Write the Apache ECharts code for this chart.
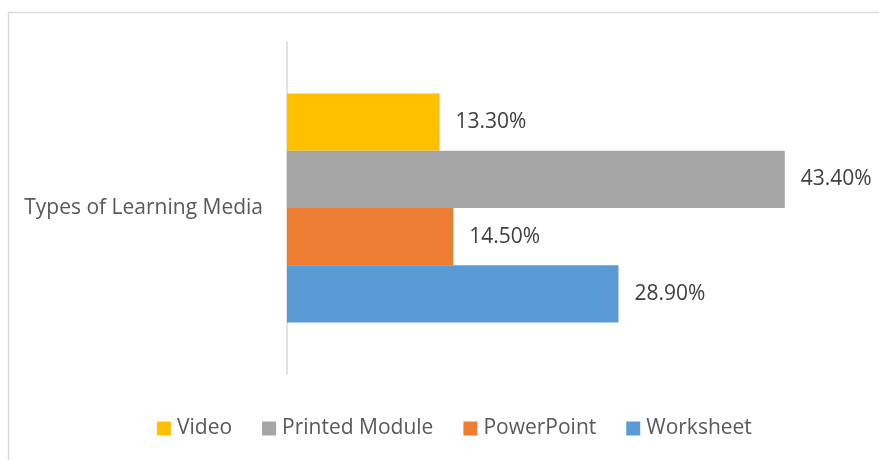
<!DOCTYPE html>
<html>
<head>
<meta charset="utf-8">
<script src="https://cdn.jsdelivr.net/npm/echarts@6/dist/echarts.min.js"></script>
<style>
  html, body { margin: 0; padding: 0; background: #fff; }
  #chart { width: 879px; height: 460px; }
</style>
</head>
<body>
<div id="chart"></div>
<script>
// 数据
const categories = ['Types of Learning Media']
const seriesNames = ['Video', 'Printed Module', 'PowerPoint', 'Worksheet']
const seriesValues = [13.3, 43.4, 14.5, 28.9]
const seriesColors = ['#FFC000', '#A5A5A5', '#ED7D31', '#5B9BD5']

const FONT = '"Open Sans", sans-serif'

const chart = echarts.init(document.getElementById('chart'))

chart.setOption({
  animation: false,
  textStyle: { fontFamily: FONT },
  // 外框
  graphic: [{
    type: 'rect',
    shape: { x: 8.5, y: 12.5, width: 900, height: 500 },
    style: { fill: 'none', stroke: '#d9d9d9', lineWidth: 1.5 },
    silent: true
  }],
  legend: {
    data: seriesNames,
    left: 157,
    top: 418,
    padding: 0,
    itemWidth: 14,
    itemHeight: 14,
    itemGap: 30,
    icon: 'rect',
    textStyle: { color: '#595959', fontSize: 21, fontFamily: FONT, padding: [0, 0, 0, 1] }
  },
  grid: { left: 287, top: 42, width: 573.5, height: 332 },
  xAxis: {
    type: 'value',
    min: 0,
    max: 50,
    show: false
  },
  yAxis: {
    type: 'category',
    data: categories,
    inverse: true,
    axisLine: { show: true, lineStyle: { color: '#d9d9d9', width: 1.5 } },
    axisTick: { show: false },
    axisLabel: { color: '#595959', fontSize: 21, fontFamily: FONT, margin: 24 }
  },
  series: seriesNames.map((name, i) => ({
    name,
    type: 'bar',
    data: [seriesValues[i]],
    barGap: '0%',
    barCategoryGap: '31%',
    itemStyle: { color: seriesColors[i] },
    label: {
      show: true,
      position: 'right',
      distance: 16,
      color: '#404040',
      fontSize: 21,
      fontFamily: FONT,
      formatter: p => p.value.toFixed(2) + '%'
    }
  }))
})
</script>
</body>
</html>
